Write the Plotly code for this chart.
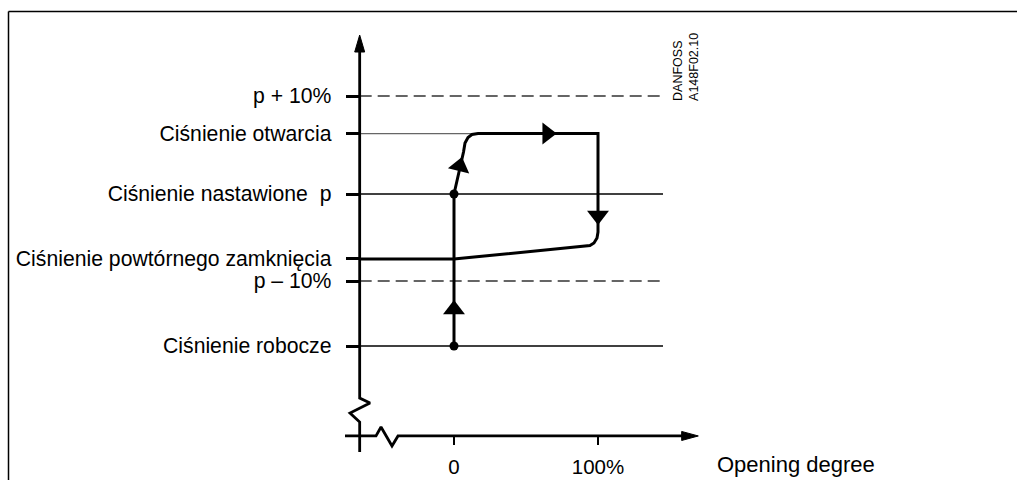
import plotly.graph_objects as go

# poziomy ciśnienia (jednostki umowne, p = 100)
level_names = [
    "p + 10%",
    "Ciśnienie otwarcia",
    "Ciśnienie nastawione\u00a0 p",
    "Ciśnienie powtórnego zamknięcia",
    "p \u2013 10%",
    "Ciśnienie robocze",
]
level_values = [110.0, 106.17, 100.0, 93.37, 91.12, 84.49]

# stopień otwarcia (%)
x_ticks = [0, 100]
x_tick_text = ["0", "100%"]

# osie (z przerwami)
y_axis_x = [-65.5, -65.5, -58.33, -72.22, -65.5, -65.5]
y_axis_y = [115.7, 79.18, 78.67, 77.65, 76.73, 73.67]
x_axis_x = [-75.69, -54.17, -50.69, -43.06, -38.89, 162.5]
x_axis_y = [75.31, 75.31, 76.22, 74.29, 75.31, 75.31]
y_arrow_x = [-68.97, -65.5, -62.03, -68.97]
y_arrow_y = [114.49, 116.22, 114.49, 114.49]
x_arrow_x = [158.1, 169.65, 158.1, 158.1]
x_arrow_y = [75.77, 75.31, 74.85, 75.77]

line_end = 145.14

# krzywa histerezy zaworu
loop_x = [-65.5, 0, 94.4, 97.2, 99.3, 100, 100, 16.67, 12.5, 9.72, 7.64, 6.6, 0]
loop_y = [93.37, 93.37, 94.74, 95.0, 95.51, 96.12, 106.17, 106.17, 106.07, 105.77, 105.2, 104.29, 100.0]
rise_x = [0, 0]
rise_y = [84.49, 100.0]
dots_x = [0, 0]
dots_y = [84.49, 100.0]

arrow_x = [0, 3.96, 64.7, 100]
arrow_y = [88.21, 102.84, 106.17, 97.81]
arrow_sym = ["triangle-up", "triangle-up", "triangle-right", "triangle-down"]
arrow_ang = [0, 14, 0, 0]

FONT = "Arial, 'Liberation Sans', sans-serif"

fig = go.Figure()

# linie odniesienia
ref_styles = [
    dict(color="#333333", width=1.3, dash="12px,6px"),
    dict(color="#666666", width=1.3),
    dict(color="black", width=1.3),
    None,
    dict(color="#333333", width=1.3, dash="12px,6px"),
    dict(color="black", width=1.3),
]
for name, val, style in zip(level_names, level_values, ref_styles):
    if style is None:
        continue
    end = 100 if name == "Ciśnienie otwarcia" else line_end
    fig.add_trace(go.Scatter(x=[-65.5, end], y=[val, val], mode="lines",
                             line=style, hoverinfo="skip"))

# osie
fig.add_trace(go.Scatter(x=y_axis_x, y=y_axis_y, mode="lines",
                         line=dict(color="black", width=2.8), hoverinfo="skip"))
fig.add_trace(go.Scatter(x=x_axis_x, y=x_axis_y, mode="lines",
                         line=dict(color="black", width=2.8), hoverinfo="skip"))
for ax, ay in [(y_arrow_x, y_arrow_y), (x_arrow_x, x_arrow_y)]:
    fig.add_trace(go.Scatter(x=ax, y=ay, mode="lines", fill="toself",
                             fillcolor="black", line=dict(color="black", width=1),
                             hoverinfo="skip"))

# krzywa
fig.add_trace(go.Scatter(x=loop_x, y=loop_y, mode="lines",
                         line=dict(color="black", width=3), hoverinfo="skip"))
fig.add_trace(go.Scatter(x=rise_x, y=rise_y, mode="lines",
                         line=dict(color="black", width=3), hoverinfo="skip"))
fig.add_trace(go.Scatter(x=dots_x, y=dots_y, mode="markers",
                         marker=dict(color="black", size=9), hoverinfo="skip"))
fig.add_trace(go.Scatter(x=arrow_x, y=arrow_y, mode="markers",
                         marker=dict(color="black", size=19, symbol=arrow_sym,
                                     angle=arrow_ang, line=dict(width=0)),
                         hoverinfo="skip"))

fig.add_annotation(x=181.25, y=72.35, xref="x", yref="y", text="Opening degree",
                   showarrow=False, xanchor="left", yanchor="middle",
                   font=dict(family=FONT, size=22, color="black"))
fig.add_annotation(x=161.1, y=109.29, xref="x", yref="y",
                   text="DANFOSS<br>A148F02.10", textangle=-90, align="left",
                   showarrow=False, xanchor="center", yanchor="bottom",
                   font=dict(family=FONT, size=12.5, color="black"))

# ramka (tylko góra i lewa krawędź są widoczne)
frame_top = 1 - 11.5 / 480
frame_left = 8.5 / 1017
fig.add_shape(type="line", xref="paper", yref="paper",
              x0=frame_left, x1=1.0, y0=frame_top, y1=frame_top,
              line=dict(color="black", width=1.5))
fig.add_shape(type="line", xref="paper", yref="paper",
              x0=frame_left, x1=frame_left, y0=0, y1=frame_top,
              line=dict(color="black", width=1.5))

fig.update_layout(
    width=1017, height=480,
    margin=dict(l=0, r=0, t=0, b=0),
    paper_bgcolor="white", plot_bgcolor="white",
    showlegend=False,
    font=dict(family=FONT, size=20.5, color="black"),
    xaxis=dict(range=[-315.28, 390.97], anchor="free", position=44 / 480,
               tickvals=x_ticks, ticktext=x_tick_text, ticks="outside",
               ticklen=8, tickwidth=2, tickcolor="black", ticklabelstandoff=4,
               tickfont=dict(size=20.5),
               showline=False, showgrid=False, zeroline=False, fixedrange=True),
    yaxis=dict(range=[70.816, 119.796], anchor="free", position=359.7 / 1017,
               tickvals=level_values, ticktext=level_names, ticks="outside",
               ticklen=14, tickwidth=2.5, tickcolor="black", ticklabelstandoff=10,
               tickfont=dict(size=21.2),
               showline=False, showgrid=False, zeroline=False, fixedrange=True),
)

fig.write_html("out.html", config={"displayModeBar": False},
               post_script="document.body.style.margin='0';")
